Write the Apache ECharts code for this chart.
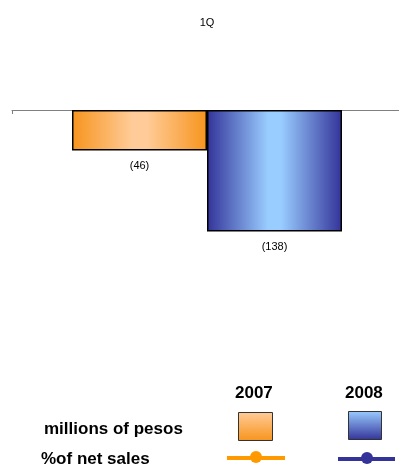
<!DOCTYPE html>
<html><head><meta charset="utf-8">
<script src="https://cdn.jsdelivr.net/npm/echarts@6/dist/echarts.min.js"></script>
<style>html,body{margin:0;padding:0;background:#fff}#c{width:399px;height:465px}</style>
</head><body><div id="c"></div>
<script>
const categories = ['1Q'];
const years = ['2007', '2008'];
const values2007 = [-46];
const values2008 = [-138];
const labelsText = ['millions of pesos', '%of net sales'];

const chart = echarts.init(document.getElementById('c'));
function hGrad(edge, mid) {
  return new echarts.graphic.LinearGradient(0, 0, 1, 0, [
    {offset: 0, color: edge}, {offset: 0.45, color: mid}, {offset: 0.55, color: mid}, {offset: 1, color: edge}
  ]);
}
function vGrad(top, bottom) {
  return new echarts.graphic.LinearGradient(0, 0, 0, 1, [
    {offset: 0, color: top}, {offset: 1, color: bottom}
  ]);
}
const fmt = p => '(' + Math.abs(p.value) + ')';
const lblStyle = {show: true, position: 'bottom', distance: 10, formatter: fmt, fontFamily: 'Liberation Sans', fontSize: 11, color: '#000'};
const font = 'Liberation Sans';
const bold = 'bold 17px "Liberation Sans"';
chart.setOption({
  animation: false,
  grid: {left: 12, top: 110, width: 390, height: 176, outerBoundsMode: 'none', containLabel: false},
  xAxis: {
    type: 'category', data: categories, position: 'top',
    axisLine: {lineStyle: {color: '#808080', width: 1}},
    axisTick: {show: true, inside: true, length: 4, lineStyle: {color: '#808080'}},
    axisLabel: {margin: 82, fontFamily: font, fontSize: 11, color: '#000'}
  },
  yAxis: {type: 'value', min: -200, max: 0, show: false, splitLine: {show: false}},
  series: [
    {name: years[0], type: 'bar', data: values2007, barWidth: 135, barGap: '0%',
     itemStyle: {color: hGrad('#F7941D', '#FFCC99'), borderColor: '#000', borderWidth: 1.5},
     label: lblStyle},
    {name: years[1], type: 'bar', data: values2008, barWidth: 135, barGap: '0%',
     itemStyle: {color: hGrad('#333399', '#99CCFF'), borderColor: '#000', borderWidth: 1.5},
     label: lblStyle}
  ],
  graphic: [
    {type: 'text', left: 235, top: 385, style: {text: years[0], font: bold, fill: '#000'}},
    {type: 'text', left: 345, top: 385, style: {text: years[1], font: bold, fill: '#000'}},
    {type: 'text', left: 44, top: 421, style: {text: labelsText[0], font: bold, fill: '#000'}},
    {type: 'text', left: 41, top: 451, style: {text: labelsText[1], font: bold, fill: '#000'}},
    {type: 'rect', shape: {x: 238.5, y: 412.5, width: 34, height: 28}, style: {fill: vGrad('#FFCC99', '#F7941D'), stroke: '#333', lineWidth: 1}},
    {type: 'rect', shape: {x: 348.5, y: 411.5, width: 33, height: 28}, style: {fill: vGrad('#99CCFF', '#333399'), stroke: '#333', lineWidth: 1}},
    {type: 'line', shape: {x1: 227, y1: 458, x2: 285, y2: 458}, style: {stroke: '#FF9900', lineWidth: 4}},
    {type: 'circle', shape: {cx: 256, cy: 457, r: 6}, style: {fill: '#FF9900'}},
    {type: 'line', shape: {x1: 338, y1: 459, x2: 395, y2: 459}, style: {stroke: '#333399', lineWidth: 4}},
    {type: 'circle', shape: {cx: 367, cy: 458, r: 6}, style: {fill: '#333399'}}
  ]
});
</script></body></html>
